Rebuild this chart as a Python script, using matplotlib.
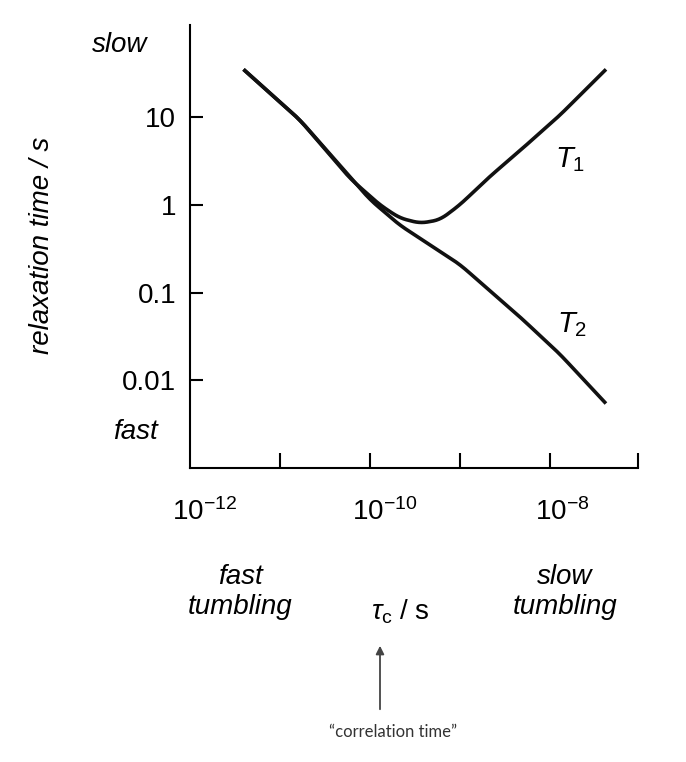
import matplotlib
matplotlib.use("Agg")
import matplotlib.pyplot as plt
import numpy as np

plt.rcParams["font.family"] = "Liberation Sans"
plt.rcParams["mathtext.fontset"] = "custom"
plt.rcParams["mathtext.rm"] = "Liberation Sans"
plt.rcParams["mathtext.it"] = "Liberation Sans:italic"

log_tau = [-11.39, -10.78, -10.22, -10.0, -9.89, -9.67, -9.44, -9.22, -9.0, -8.67, -8.33, -7.89, -7.39]
log_T1 = [1.53, 0.97, 0.30, 0.10, 0.0, -0.15, -0.21, -0.17, 0.0, 0.32, 0.62, 1.02, 1.53]
log_T2_tau = [-11.39, -10.78, -10.0, -9.67, -9.0, -8.33, -7.89, -7.39]
log_T2 = [1.53, 0.97, 0.06, -0.23, -0.68, -1.28, -1.70, -2.25]
yticks = [10, 1, 0.1, 0.01]
ytick_labels = ["10", "1", "0.1", "0.01"]
xlabels = [r"10$^{-12}$", r"10$^{-10}$", r"10$^{-8}$"]

fig = plt.figure(figsize=(6.86, 7.62), dpi=100)
ax = fig.add_axes([190/686, 1-468/762, 448/686, 443/762])
ax.set_xscale("log"); ax.set_yscale("log")

def smooth(x, y):
    xs = np.linspace(x[0], x[-1], 400)
    ys = np.interp(xs, x, y)
    k = 8
    ypad = np.concatenate([2*ys[0]-ys[k:0:-1], ys, 2*ys[-1]-ys[-2:-k-2:-1]])
    ysm = np.convolve(ypad, np.ones(2*k+1)/(2*k+1), mode="valid")
    return 10**xs, 10**ysm

x1, y1 = smooth(log_tau, log_T1)
x2, y2 = smooth(log_T2_tau, log_T2)
ax.plot(x1, y1, color="#111", lw=2.6)
ax.plot(x2, y2, color="#111", lw=2.6)

ax.set_xlim(1e-12, 10**-7.02)
ax.set_ylim(1e-3, 10**2.05)
ax.spines["top"].set_visible(False); ax.spines["right"].set_visible(False)
for s in ["left", "bottom"]:
    ax.spines[s].set_linewidth(1.5)
ax.set_yticks(yticks); ax.set_yticklabels(ytick_labels, fontsize=20)
ax.set_xticks([10.0**e for e in [-11, -10, -9, -8, -7.02]])
ax.set_xticklabels([])
ax.minorticks_off()
ax.tick_params(direction="in", length=9, width=1.5, pad=10)
ax.tick_params(axis="x", direction="in", length=11)

for lab, xp in zip(xlabels, [205, 385, 562]):
    fig.text(xp/686, 1-512/762, lab, fontsize=20, ha="center", va="center")

fig.text(42/686, 1-245/762, "relaxation time / s", rotation=90, fontsize=20, style="italic", ha="center", va="center")
fig.text(120/686, 1-45/762, "slow", fontsize=20, style="italic", ha="center", va="center")
fig.text(135/686, 1-432/762, "fast", fontsize=20, style="italic", ha="center", va="center")
fig.text(570/686, 1-160/762, r"$T_1$", fontsize=21, ha="center", va="center")
fig.text(572/686, 1-325/762, r"$T_2$", fontsize=21, ha="center", va="center")
fig.text(240/686, 1-592/762, "fast\ntumbling", fontsize=20, style="italic", ha="center", va="center", linespacing=1.2)
fig.text(565/686, 1-592/762, "slow\ntumbling", fontsize=20, style="italic", ha="center", va="center", linespacing=1.2)
fig.text(400/686, 1-612/762, r"$\tau_{\rm c}$ / s", fontsize=20, ha="center", va="center")
fig.add_artist(matplotlib.patches.FancyArrowPatch((380/686, 1-712/762), (380/686, 1-643/762),
    transform=fig.transFigure, arrowstyle="-|>", mutation_scale=12, color="#444", lw=1.3))
fig.text(393/686, 1-732/762, "\u201ccorrelation time\u201d", fontsize=12, family="Lato", color="#333", ha="center", va="center")
fig.savefig("out.png", dpi=100)
